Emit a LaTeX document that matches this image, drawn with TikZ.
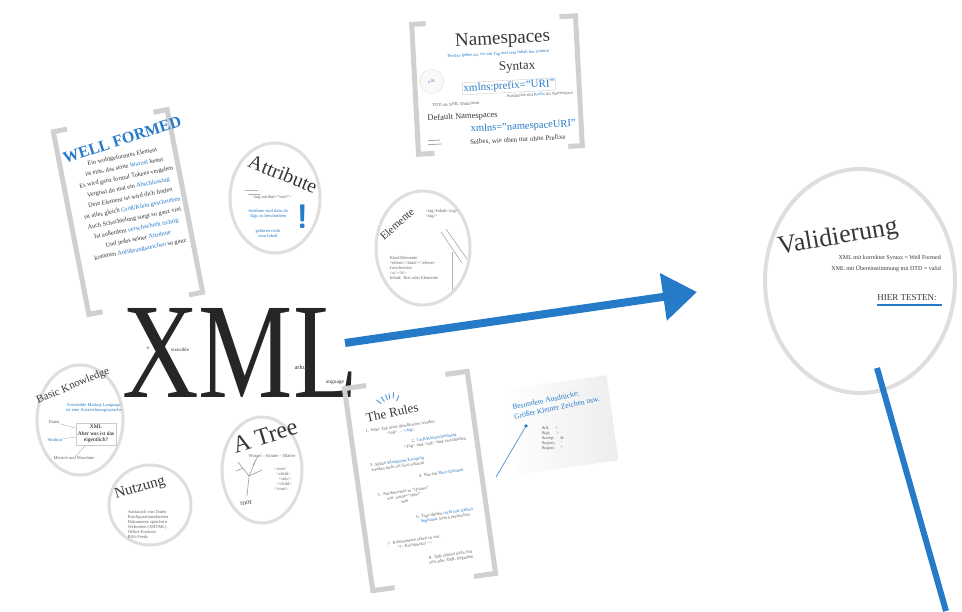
\documentclass[tikz,border=0pt]{standalone}
\usepackage{fontspec}
\usepackage{graphicx}
\setmainfont{Liberation Serif}
\usetikzlibrary{shapes.geometric,arrows.meta,calc}
\definecolor{xmlblue}{RGB}{38,123,200}
\definecolor{framegray}{RGB}{208,208,208}
\definecolor{ovalgray}{RGB}{222,222,222}
\definecolor{inkgray}{RGB}{55,55,55}

\begin{document}
\begin{tikzpicture}[x=1pt,y=-1pt,
  oval/.style={ellipse, draw=ovalgray, line width=3pt, fill=white, inner sep=0pt},
  bracket/.style={draw=framegray, line width=5pt, line join=miter},
  title/.style={inner sep=0pt, text=inkgray},
  tiny/.style={inner sep=0pt, font=\fontsize{4.5}{5}\selectfont, text=gray!80!black},
  tinyblue/.style={tiny, text=xmlblue},
]
\fill[white] (0,0) rectangle (962,611);
\useasboundingbox (0,0) rectangle (962,611);

% namespaces frame
\begin{scope}[shift={(497,85)}, rotate=3]
\draw[bracket] (-68,-65) -- (-82,-65) -- (-82,65) -- (-66,65);
\draw[bracket] (66,-65) -- (82,-65) -- (82,65) -- (68,65);
\node[title, transform shape, font=\fontsize{19}{20}\selectfont] (nsTitle) at (8,-45) {Namespaces};
\node[tinyblue, transform shape] (nsNote) at (3,-31) {Prefixe geben an, wo ein Tag und sein Inhalt her stammt};
\node[title, transform shape, font=\fontsize{13}{14}\selectfont] (nsSyntax) at (21,-17) {Syntax};
\node[circle, draw=gray!25, fill=gray!5, minimum size=24, inner sep=0pt, transform shape,
  text=xmlblue, font=\fontsize{4.5}{5}\selectfont] (nsIcon) at (-65,-7) {z.B.};
\node[inner sep=1pt, draw=gray!40, thin, text=xmlblue, transform shape, font=\fontsize{11}{12}\selectfont] (nsPrefix) at (12,2) {xmlns:prefix="URI"};
\node[tiny, transform shape] (nsPrefixNote) at (42,12) {Ausdrücke mit \textcolor{xmlblue}{Prefix} im Namespace};
\node[tiny, transform shape] (nsDtd) at (-42,17) {DTD als XML-Dokument};
\node[title, transform shape, font=\fontsize{8.5}{9}\selectfont] (nsDefault) at (-36,30) {Default Namespaces};
\node[inner sep=0pt, text=xmlblue, transform shape, font=\fontsize{10.5}{11}\selectfont] (nsDefaultUri) at (24,43) {xmlns="namespaceURI"};
\node[title, transform shape, font=\fontsize{7}{8}\selectfont] (nsSame) at (18,56) {Selbes, wie oben nur ohne Prefixe};
\draw[gray!70, line width=0.8pt] (-72,52) -- (-60,52) (-72,56) -- (-58,56);
\end{scope}

% well formed frame
\begin{scope}[shift={(128,212)}, rotate=11]
\draw[bracket] (-44,-93) -- (-58,-93) -- (-58,93) -- (-44,93);
\draw[bracket] (44,-93) -- (58,-93) -- (58,93) -- (44,93);
\node[inner sep=0pt, text=xmlblue, rotate=7, transform shape, font=\fontsize{16}{17}\selectfont\bfseries] (wfTitle) at (8,-72) {WELL FORMED};
\node[inner sep=0pt, text=inkgray, align=center, transform shape, font=\fontsize{6.3}{10.5}\selectfont] (wfBody) at (5,-8) {%
Ein wohlgeformtes Element\\
ist eins, das seine \textcolor{xmlblue}{Wurzel} kennt\\
Es wird ganz formal Tokens vergeben\\
Vergisst du mal ein \textcolor{xmlblue}{Abschlusstag}\\
Dein Element ist wird dich finden\\
ist alles gleich \textcolor{xmlblue}{Groß/Klein geschrieben}\\
Auch Schachtelung sorgt so ganz viel\\
Ist außerdem \textcolor{xmlblue}{verschachtelt richtig}\\
Und jedes seiner \textcolor{xmlblue}{Attribute}\\
kommen \textcolor{xmlblue}{Anführungszeichen} so ganz};
\end{scope}

% topic ovals
\node[oval, minimum width=90, minimum height=110] (attrOval) at (275,198) {};
\node[title, rotate=-22, font=\fontsize{20}{21}\selectfont] (attrTitle) at (283,174) {Attribute};
\node[tiny] (attrCode) at (272,197) {<tag attribut="wert">};
\draw[gray!60, line width=0.8pt] (245,190) -- (258,190) (248,194) -- (260,194);
\node[tinyblue, align=center] (attrNoteA) at (268,214) {Attribute sind dazu da\\Tags zu beschreiben};
\node[tinyblue, align=center] (attrNoteB) at (268,233) {gehören nicht\\zum Inhalt};
\node[inner sep=0pt, text=xmlblue, font=\fontsize{34}{34}\sffamily\bfseries] (attrMark) at (303,217) {!};

\node[oval, minimum width=94, minimum height=114] (elemOval) at (423,248) {};
\node[title, rotate=42, font=\fontsize{11}{12}\selectfont] (elemTitle) at (397,224) {Elemente};
\node[tiny, align=left] (elemCode) at (442,214) {<tag>Inhalt</tag>\\<tag/>};
\draw[gray!70, line width=0.6pt] (441,232) -- (462,263) (446,229) -- (467,259);
\node[tiny, align=left] (elemList) at (414,268) {Kind-Elemente\\<eltern><kind/></eltern>\\Geschwister\\<a/><b/>\\Inhalt: Text oder Elemente};
\draw[gray!60, thin] (452,252) -- (452,290);

\node[oval, minimum width=86, minimum height=110] (basicOval) at (80,420) {};
\node[title, rotate=23, font=\fontsize{11}{12}\selectfont] (basicTitle) at (73,386) {Basic Knowledge};
\node[tinyblue, align=center] (basicNote) at (94,408) {Extensible Markup Language\\ist eine Auszeichnungssprache};
\node[inner sep=2pt, draw=gray!40, thin, align=center, font=\fontsize{5.5}{6.5}\selectfont] (basicBox) at (96,434) {XML\\Aber was ist das\\eigentlich?};
\node[tiny] (basicLeft) at (54,422) {Daten};
\node[tinyblue] (basicRight) at (55,440) {Struktur};
\node[tiny] (basicBottom) at (74,458) {Mensch und Maschine};
\draw[gray!60, thin] (basicLeft) -- (basicBox) (basicRight) -- (basicBox) (basicBottom) -- (basicBox);

\node[oval, minimum width=82, minimum height=80] (useOval) at (150,505) {};
\node[title, rotate=16, font=\fontsize{15}{16}\selectfont] (useTitle) at (140,488) {Nutzung};
\node[tiny, align=left] (useList) at (148,524) {Austausch von Daten\\Konfigurationsdateien\\Dokumente speichern\\Webseiten (XHTML)\\Office-Formate\\RSS-Feeds};

\node[oval, minimum width=80, minimum height=106] (treeOval) at (262,470) {};
\node[title, rotate=17, font=\fontsize{24}{25}\selectfont] (treeTitle) at (265,436) {A Tree};
\node[title, rotate=8, font=\fontsize{7}{8}\selectfont] (treeRoot) at (246,503) {root};
\coordinate (treeBase) at (247,496);
\coordinate (treeFork) at (249,476);
\draw[gray!70, line width=0.7pt] (treeBase) -- (treeFork) -- (238,462) (treeFork) -- (256,460)
  (treeFork) -- (262,470) (243,468) -- (236,471) (253,465) -- (258,456);
\node[tiny, align=left] (treeNote) at (283,479) {<root>\\\ \ <child>\\\ \ \ \ <sub/>\\\ \ </child>\\</root>};
\node[tiny] (treeHead) at (272,456) {Wurzel -- Kinder -- Blätter};

% big title
\node[inner sep=0pt, anchor=base, text=black!85, font=\fontsize{136}{140}\selectfont] (xml) at (240,397) {\scalebox{0.78}[1]{XML}};
\node[inner sep=0pt, font=\fontsize{5}{6}\selectfont, text=inkgray] (xmlE) at (148,348) {e};
\node[inner sep=0pt, font=\fontsize{5}{6}\selectfont, text=inkgray] (xmlExt) at (180,350) {xtensible};
\node[inner sep=0pt, font=\fontsize{6.5}{7}\selectfont, text=inkgray] (xmlMarkup) at (302,368) {arkup};
\node[inner sep=0pt, font=\fontsize{5.5}{6}\selectfont, text=inkgray] (xmlLang) at (335,383) {anguage};

% rules frame
\begin{scope}[shift={(420,481)}, rotate=8]
\draw[bracket] (-40,-102) -- (-62,-102) -- (-62,102) -- (-40,102);
\draw[bracket] (40,-102) -- (62,-102) -- (62,102) -- (40,102);
\node[title, rotate=4, transform shape, font=\fontsize{13}{14}\selectfont] (rulesTitle) at (-18,-72) {The Rules};
\foreach \a/\r in {-60/12, -78/14, -92/13, -103/13, -118/13, -134/14}
  \draw[xmlblue!80, line width=0.9pt] ($(-18,-72)+(\a:\r)$) -- ($(-18,-72)+(\a:\r+6)$);
\node[tiny, align=center, transform shape] (ruleOne) at (-12,-54) {1. Jeder Tag muss geschlossen werden\\<tag> \textcolor{xmlblue}{... </tag>}};
\node[tiny, align=center, transform shape] (ruleTwo) at (20,-38) {2. \textcolor{xmlblue}{Groß/Kleinschreibung}\\<Tag> und <tag> sind verschieden};
\node[tiny, align=center, transform shape] (ruleThree) at (-20,-20) {3. Spitze \textcolor{xmlblue}{Klammern/Escaping}\\werden nicht als Text erkannt};
\node[tiny, transform shape] (ruleFour) at (22,-5) {4. Nur ein \textcolor{xmlblue}{Root-Element}};
\node[tiny, align=center, transform shape] (ruleFive) at (-18,13) {5. Attributwerte in "Quotes"\\wie: name="Wert"\\sein};
\node[tiny, align=center, transform shape] (ruleSix) at (20,38) {6. Tags dürfen \textcolor{xmlblue}{nicht mit Zahlen}\\\textcolor{xmlblue}{beginnen}, kein Leerzeichen};
\node[tiny, align=center, transform shape] (ruleSeven) at (-14,60) {7. Kommentare sehen so aus:\\<!-- Kommentar -->};
\node[tiny, align=center, transform shape] (ruleEight) at (20,80) {8. Tags dürfen nicht mit\\xml oder XML beginnen};
\end{scope}

% special characters card
\node[rotate=8, minimum width=104, minimum height=86, inner sep=0pt, left color=white, right color=gray!14] (specialBox) at (561,425) {};
\node[inner sep=0pt, rotate=12, text=xmlblue, align=left, font=\fontsize{7.5}{9.5}\selectfont] (specialTitle) at (556,403) {Besondere Ausdrücke:\\Größer Kleiner Zeichen usw.};
\node[tiny, align=left] (specialList) at (553,438) {\&lt; \quad <\\\&gt; \quad >\\\&amp; \quad \&\\\&apos; \quad '\\\&quot; \quad "};
\node[circle, fill=xmlblue, inner sep=1.3pt] (specialDot) at (526,426) {};
\coordinate (rulesLink) at (496,477);
\draw[xmlblue!75, line width=0.8pt] (specialDot) -- (rulesLink);

% validation oval
\node[oval, line width=4pt, minimum width=190, minimum height=224] (valOval) at (860,281) {};
\node[title, rotate=10, font=\fontsize{26}{27}\selectfont] (valTitle) at (838,238) {Validierung};
\node[inner sep=0pt, anchor=east, align=right, text=inkgray, font=\fontsize{6}{11}\selectfont] (valNote) at (941,264) {XML mit korrekter Syntax = Well Formed\\XML mit Übereinstimmung mit DTD = valid};
\node[inner sep=0pt, text=inkgray, font=\fontsize{9}{10}\selectfont] (valTest) at (907,298) {HIER TESTEN:};
\draw[xmlblue, line width=1.8pt] (valTest.south west) ++(0,4) -- ++(65,0);

% connectors
\coordinate (xmlTail) at (345,343);
\coordinate (xmlTip) at (697,292);
\draw[xmlblue, line width=8pt, -{Triangle[length=34pt,width=46pt]}] (xmlTail) -- (xmlTip);
\coordinate (valLink) at (877,368);
\coordinate (valEnd) at (946,611);
\draw[xmlblue, line width=6pt] (valLink) -- (valEnd);
\end{tikzpicture}
\end{document}
